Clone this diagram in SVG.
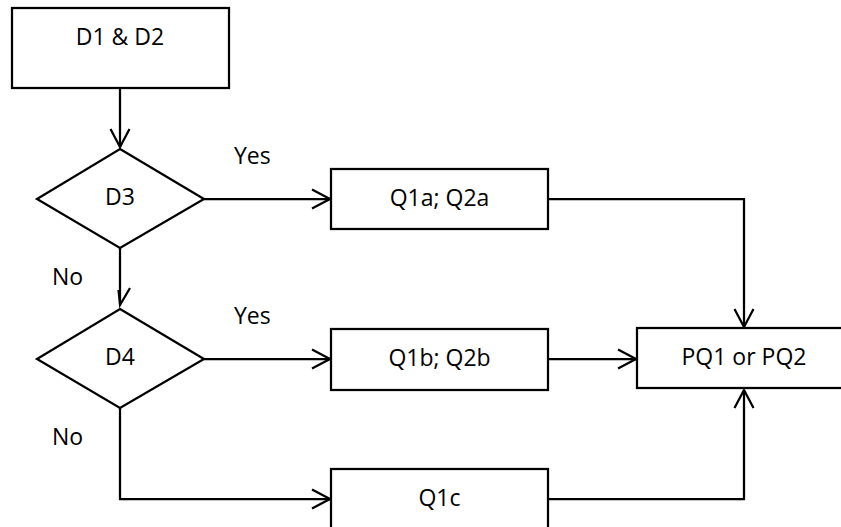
<svg xmlns="http://www.w3.org/2000/svg" width="841" height="527" viewBox="0 0 841 527">
<style>
.box{fill:#fff;stroke:#000;stroke-width:2.25}
.t{font-family:"Open Sans","Noto Sans",sans-serif;font-size:23px;fill:#000;text-anchor:middle}
.l{font-family:"Open Sans","Noto Sans",sans-serif;font-size:23px;fill:#000}
.c{fill:none;stroke:#000;stroke-width:2.25}
</style>
<defs>
<marker id="arr" viewBox="-21 -11 23 22" markerWidth="23" markerHeight="22" refX="0" refY="0" orient="auto" markerUnits="userSpaceOnUse">
<path d="M-18,-9.5 L0,0 L-18,9.5" fill="none" stroke="#000" stroke-width="2.25"/>
</marker>
</defs>
<rect width="841" height="527" fill="#fff"/>
<g id="connectors">
<path class="c" d="M120,88 V147" marker-end="url(#arr)"/>
<path class="c" d="M204,199 H330" marker-end="url(#arr)"/>
<path class="c" d="M120,248 V305 M118.5,290 L120,305 L130,288"/>
<path class="c" d="M548,199 H744 V327" marker-end="url(#arr)"/>
<path class="c" d="M204,359 H330" marker-end="url(#arr)"/>
<path class="c" d="M548,359 H636" marker-end="url(#arr)"/>
<path class="c" d="M120,408 V499 H330" marker-end="url(#arr)"/>
<path class="c" d="M548,499 H744 V390" marker-end="url(#arr)"/>
</g>
<g id="d1d2">
<rect class="box" x="12" y="8" width="217" height="80"/>
<text class="t" x="120" y="45">D1 &amp; D2</text>
</g>
<g id="d3">
<polygon class="box" points="120,149 204,199 120,248 37,199"/>
<text class="t" x="120" y="205">D3</text>
</g>
<g id="d4">
<polygon class="box" points="120,309 204,359 120,408 37,359"/>
<text class="t" x="120" y="365">D4</text>
</g>
<g id="q1a">
<rect class="box" x="331" y="169" width="217" height="60"/>
<text class="t" x="439.5" y="206">Q1a; Q2a</text>
</g>
<g id="q1b">
<rect class="box" x="331" y="329" width="217" height="61"/>
<text class="t" x="439.5" y="366">Q1b; Q2b</text>
</g>
<g id="q1c">
<rect class="box" x="331" y="469" width="217" height="62"/>
<text class="t" x="439.5" y="506">Q1c</text>
</g>
<g id="pq">
<rect class="box" x="637" y="328" width="214" height="60"/>
<text class="t" x="744" y="365">PQ1 or PQ2</text>
</g>
<g id="labels">
<text class="l" x="234" y="164">Yes</text>
<text class="l" x="234" y="324">Yes</text>
<text class="l" x="52" y="285">No</text>
<text class="l" x="52" y="445">No</text>
</g>
</svg>
